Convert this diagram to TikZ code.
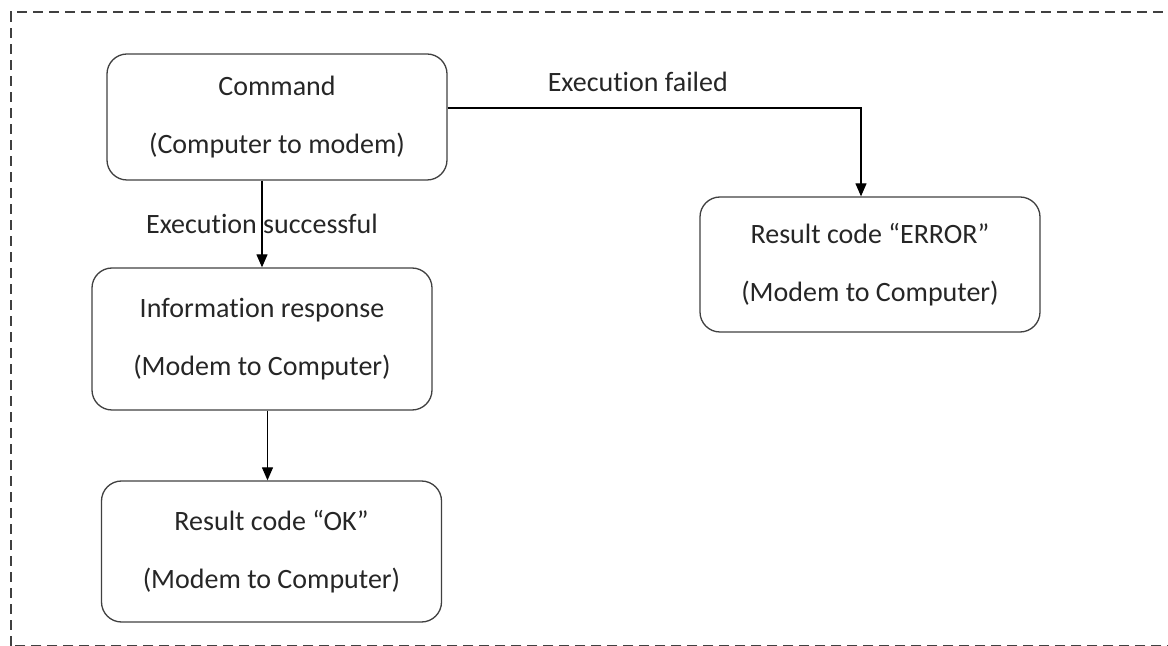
\documentclass[tikz,border=0pt]{standalone}
\usepackage{fontspec}
\setmainfont{Carlito}[Ligatures={NoCommon}]
\usetikzlibrary{arrows.meta}
\definecolor{line_gray}{HTML}{404040}
\definecolor{text_gray}{HTML}{262626}

\begin{document}
\begin{tikzpicture}[x=0.5pt, y=-0.5pt,
	msgbox/.style={draw=line_gray, line width=0.65pt, rounded corners=10pt, align=center, text=text_gray, font=\fontsize{14}{17}\selectfont, inner sep=0pt, minimum width=170pt},
	flow/.style={draw=black, line width=0.6pt, -{Triangle[width=5.5pt, length=6.5pt]}},
	lbl/.style={text=text_gray, font=\fontsize{14}{17}\selectfont, inner sep=0pt},
	frame/.style={draw=black!75, line width=0.6pt, dash pattern=on 5pt off 3pt}]
	\useasboundingbox (0, 0) rectangle (1168, 646);
	\draw[frame] (11, 645.6) -- (11, 12) -- (1168.6, 12) -- (1168.6, 645.6) -- cycle;
	\node[msgbox, minimum height=63pt] (cmd) at (277, 117) {Command\\[12pt](Computer to modem)};
	\node[msgbox, minimum height=71pt] (info) at (262, 339) {Information response\\[12pt](Modem to Computer)};
	\node[msgbox, minimum height=70.5pt] (ok) at (271.5, 551.5) {Result code “OK”\\[12pt](Modem to Computer)};
	\node[msgbox, minimum height=67.5pt] (err) at (870, 264.5) {Result code “ERROR”\\[12pt](Modem to Computer)};
	\coordinate (fail_out) at ([yshift=4.5pt]cmd.east);
	\coordinate (fail_in) at ([xshift=-4.5pt]err.north);
	\coordinate (ok_in) at ([xshift=-2pt]ok.north);
	\draw[flow] (cmd.south -| info.north) -- (info.north) node[midway, lbl] {Execution successful};
	\draw[flow] (fail_out) -| (fail_in) node[pos=0.23, lbl, above=8pt] {Execution failed};
	\draw[flow] (info.south -| ok_in) -- (ok_in);
\end{tikzpicture}
\end{document}
